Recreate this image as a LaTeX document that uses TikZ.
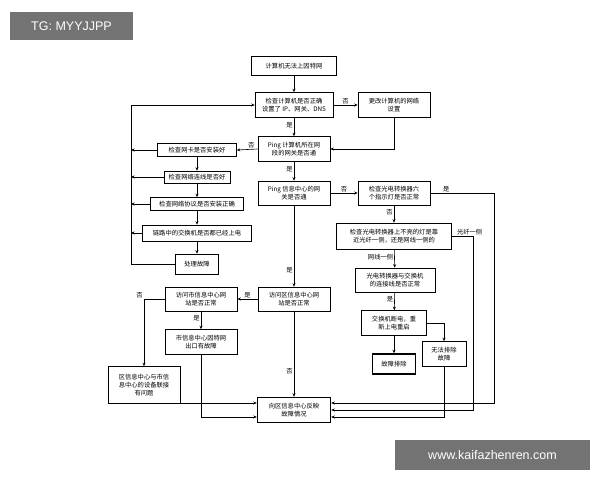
\documentclass[tikz,border=0pt]{standalone}
\usepackage{fontspec}
\setmainfont{Noto Sans CJK SC}
\newfontfamily\wmfont{Liberation Sans}
\usetikzlibrary{arrows.meta}
\begin{document}
\begin{tikzpicture}[x=1pt,y=-1pt,
 box/.style={draw,line width=0.6pt,align=center,inner sep=0pt,font=\fontsize{6.3}{8}\selectfont},
 tbox/.style={box,line width=1.4pt},
 lab/.style={font=\fontsize{6.3}{7}\selectfont,inner sep=1pt},
 ar/.style={line width=0.6pt,-{Stealth[length=3.5pt,width=3pt]}},
 wm/.style={fill=black!55,text=white,font=\fontsize{12.5}{14}\selectfont\wmfont,inner sep=0pt}]
\useasboundingbox (0,0) rectangle (600,480);
\node[wm,minimum width=123,minimum height=28] (w1) at (71.5,26) {TG: MYYJJPP};
\node[wm,minimum width=195,minimum height=30] (w2) at (492.5,455) {www.kaifazhenren.com};
\node[tbox,minimum width=85,minimum height=19] (top) at (294,66) {计算机无法上因特网};
\node[box,minimum width=78,minimum height=25] (ip) at (294,105) {检查计算机是否正确\\设置了 IP、网关、DNS};
\node[box,minimum width=72,minimum height=25] (chg) at (394,105) {更改计算机的网络\\设置};
\node[box,minimum width=72,minimum height=25] (pg) at (294,149) {Ping 计算机所在网\\段的网关是否通};
\node[box,minimum width=79,minimum height=13] (nic) at (197,150) {检查网卡是否安装好};
\node[box,minimum width=66,minimum height=12] (cab) at (197,177) {检查网络连线是否好};
\node[box,minimum width=93,minimum height=13] (pro) at (197,204) {检查网络协议是否安装正确};
\node[box,minimum width=109,minimum height=16] (sw) at (197,233) {链路中的交换机是否都已经上电};
\node[box,minimum width=43,minimum height=20] (fix) at (197,264) {处理故障};
\node[box,minimum width=72,minimum height=24] (pc) at (294,193) {Ping 信息中心的网\\关是否通};
\node[box,minimum width=72,minimum height=24] (six) at (394,193) {检查光电转换器六\\个指示灯是否正常};
\node[box,minimum width=115,minimum height=26] (dark) at (394,236) {检查光电转换器上不亮的灯是靠\\近光纤一侧，还是网线一侧的};
\node[box,minimum width=80,minimum height=24] (conn) at (395,280) {光电转换器与交换机\\的连接线是否正常};
\node[box,minimum width=65,minimum height=25] (rb) at (394,323) {交换机断电，重\\新上电重启};
\node[tbox,minimum width=43,minimum height=20] (ok) at (394,364) {故障排除};
\node[box,minimum width=44,minimum height=25] (no) at (444,354) {无法排除\\故障};
\node[box,minimum width=72,minimum height=24] (qu) at (294,299) {访问区信息中心网\\站是否正常};
\node[box,minimum width=72,minimum height=24] (shi) at (201,299) {访问市信息中心网\\站是否正常};
\node[box,minimum width=72,minimum height=25] (exit) at (201,342) {市信息中心因特网\\出口有故障};
\node[box,minimum width=72,minimum height=37] (dev) at (144,385) {区信息中心与市信\\息中心的设备联接\\有问题};
\node[tbox,minimum width=73,minimum height=25] (rep) at (294,410) {向区信息中心反映\\故障情况};
\coordinate (lft) at (131,105);
\draw[ar] (top) -- (ip);
\draw[ar] (ip) -- node[lab,above]{否} (chg);
\draw[ar] (chg.south) |- (pg.east);
\draw[ar] (ip) -- node[lab,left,pos=0.4]{是} (pg);
\draw[ar] (pg.west) -- (nic.east) node[lab,above left,pos=0.1]{否};
\draw[ar] (nic) -- (cab);
\draw[ar] (cab) -- (pro);
\draw[ar] (pro) -- (sw);
\draw[ar] (sw) -- (fix);
\foreach \n in {nic,cab,pro,sw}{\draw[ar] (\n.west) -- (\n.west -| lft);}
\draw[ar] (fix.west) -| (lft) -- (ip.west);
\draw[ar] (pg) -- node[lab,left,pos=0.4]{是} (pc);
\draw[ar] (pc) -- node[lab,above]{否} (six);
\draw[ar] (six.east) -- ++(64,0) node[lab,above,pos=0.25]{是} |- ([yshift=7]rep.east);
\draw[ar] (six) -- node[lab,left,pos=0.4]{否} (dark);
\draw[ar] (dark.east) -- ++(21,0) node[lab,above,pos=0.85]{光纤一侧} |- (rep.east);
\draw[ar] (dark) -- node[lab,left,pos=0.4]{网线一侧} (conn);
\draw[ar] (conn) -- node[lab,left,pos=0.4]{是} (rb);
\draw[ar] (rb) -- (ok);
\draw[ar] (rb.east) -| (no.north);
\draw[ar] (no.south) |- ([yshift=-7]rep.east);
\draw[ar] (pc) -- node[lab,left,pos=0.8]{是} (qu);
\draw[ar] (qu) -- node[lab,above]{是} (shi);
\draw[ar] (qu) -- node[lab,left,pos=0.7]{否} (rep);
\draw[ar] (shi) -- node[lab,left,pos=0.4]{是} (exit);
\draw[ar] (shi.west) -| node[lab,above left,pos=0.5]{否} (dev.north);
\draw[ar] (exit.south) |- ([yshift=-7]rep.west);
\draw[ar] (dev.south) |- ([yshift=7]rep.west);
\end{tikzpicture}
\end{document}
